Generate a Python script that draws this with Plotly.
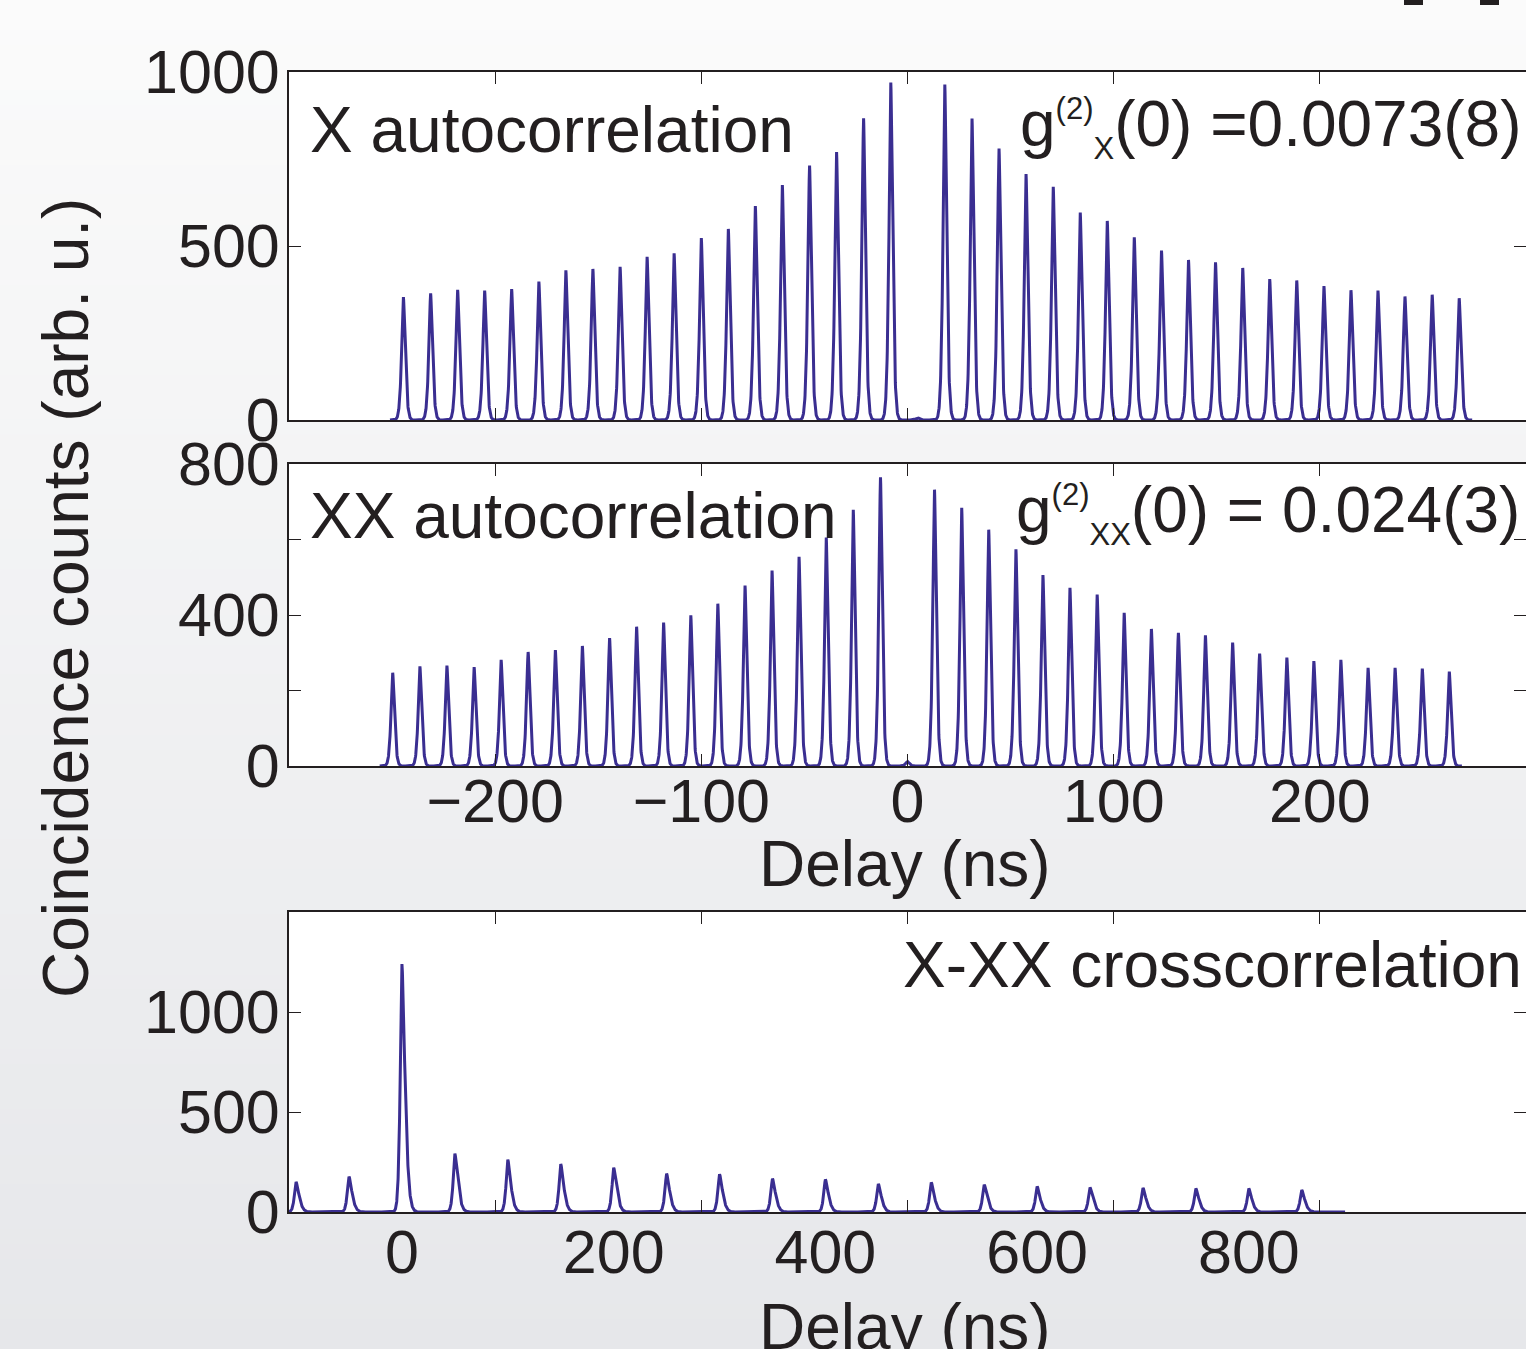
import numpy as np
import plotly.graph_objects as go

# ---------------- data ----------------
# X autocorrelation: peak delays (ns) and peak heights (counts)
x_auto_delay = [-244.5, -231.3, -218.2, -205.1, -192.0, -178.8, -165.7, -152.6, -139.4,
                -126.3, -113.2, -100.0, -86.9, -73.8, -60.7, -47.5, -34.4, -21.3, -8.1,
                5.0,
                18.1, 31.3, 44.4, 57.5, 70.7, 83.8, 96.9, 110.0, 123.2, 136.3,
                149.4, 162.6, 175.7, 188.8, 202.0, 215.1, 228.2, 241.3, 254.5, 267.6]
x_auto_counts = [353, 364, 374, 372, 376, 398, 430, 434, 440, 469, 479, 523, 549, 615,
                 675, 731, 770, 867, 970,
                 6,
                 964, 866, 780, 707, 670, 596, 572, 525, 487, 460, 453, 437, 405, 401,
                 385, 373, 372, 355, 360, 350]

# XX autocorrelation
xx_auto_delay = [-249.7, -236.5, -223.4, -210.2, -197.1, -184.0, -170.8, -157.7, -144.5,
                 -131.4, -118.3, -105.1, -92.0, -78.8, -65.7, -52.6, -39.4, -26.3, -13.1,
                 0.0,
                 13.1, 26.3, 39.4, 52.6, 65.7, 78.8, 92.0, 105.1, 118.3, 131.4,
                 144.5, 157.7, 170.8, 184.0, 197.1, 210.2, 223.4, 236.5, 249.7, 262.8]
xx_auto_counts = [247, 264, 266, 262, 281, 302, 307, 318, 339, 369, 380, 399, 430, 478,
                  518, 554, 605, 679, 765,
                  12,
                  732, 684, 626, 574, 506, 472, 454, 406, 363, 353, 346, 327, 298, 287,
                  278, 281, 260, 260, 258, 250]

# X-XX crosscorrelation
cross_delay = [-100, -50, 0, 50, 100, 150, 200, 250, 300, 350, 400, 450, 500, 550, 600,
               650, 700, 750, 800, 850]
cross_counts = [150, 177, 1240, 292, 262, 240, 222, 192, 189, 167, 163, 140, 148, 137,
                128, 122, 120, 117, 117, 110]

# axis ticks
top_tickvals = [-200, -100, 0, 100, 200]
top_ticktext = ["\u2212200", "\u2212100", "0", "100", "200"]
y1_tickvals = [0, 500, 1000]
y1_ticktext = ["0", "500", "1000"]
y2_tickvals = [0, 200, 400, 600, 800]
y2_ticktext = ["0", "", "400", "", "800"]
x3_tickvals = [0, 200, 400, 600, 800]
x3_ticktext = ["0", "200", "400", "600", "800"]
y3_tickvals = [0, 500, 1000]
y3_ticktext = ["0", "500", "1000"]


# ---------------- build histogram curves from the peaks ----------------
def curve(t, centers, heights, wl, wr, p=1.5):
    y = np.zeros_like(t)
    for c, h in zip(centers, heights):
        d = t - c
        w = np.where(d < 0, wl, wr)
        y += h * np.exp(-(np.abs(d) / w) ** p)
    return y


t1 = np.arange(-251.0, 274.0, 0.1)
y1 = curve(t1, x_auto_delay, x_auto_counts, 1.25, 1.3)
t2 = np.arange(-256.0, 269.0, 0.1)
y2 = curve(t2, xx_auto_delay, xx_auto_counts, 1.2, 1.25)
t3 = np.arange(-110.0, 891.0, 0.1)
y3 = curve(t3, cross_delay, cross_counts, 2.3, 4.0)

# ---------------- figure ----------------
W, H = 1526, 1349
LINE = "#3a2e91"
INK = "#231f20"
FONT = "Liberation Sans, Arial, sans-serif"


def py(p):
    return 1 - p / H


def px(p):
    return p / W


xdom = [px(289), 1.0]
dom1 = [py(420), py(72)]
dom2 = [py(766), py(464)]
dom3 = [py(1212), py(912)]

LW = 3.0
fig = go.Figure()
fig.add_trace(go.Scatter(x=t1, y=y1, mode="lines", line=dict(color=LINE, width=LW),
                         xaxis="x", yaxis="y", hoverinfo="skip", showlegend=False))
fig.add_trace(go.Scatter(x=t2, y=y2, mode="lines", line=dict(color=LINE, width=LW),
                         xaxis="x2", yaxis="y2", hoverinfo="skip", showlegend=False))
fig.add_trace(go.Scatter(x=t3, y=y3, mode="lines", line=dict(color=LINE, width=LW),
                         xaxis="x3", yaxis="y3", hoverinfo="skip", showlegend=False))
fig.add_trace(go.Scatter(x=[None], y=[None], mode="lines", xaxis="x4", yaxis="y3",
                         hoverinfo="skip", showlegend=False))

tickfont = dict(family=FONT, size=61, color=INK)
common = dict(showline=True, linewidth=2, linecolor=INK, mirror="ticks", ticks="inside",
              ticklen=12, tickwidth=1.3, tickcolor=INK, showgrid=False, zeroline=False,
              tickfont=tickfont, automargin=False)

fig.update_layout(
    width=W, height=H,
    margin=dict(l=0, r=0, t=0, b=0, autoexpand=False),
    paper_bgcolor="#f0f0f1",
    plot_bgcolor="white",
    showlegend=False,
    xaxis=dict(domain=xdom, anchor="y", range=[-300, 300], tickmode="array",
               tickvals=top_tickvals, showticklabels=False, **common),
    yaxis=dict(domain=dom1, anchor="x", range=[0, 1000], tickmode="array",
               tickvals=y1_tickvals, ticktext=y1_ticktext, ticklabelstandoff=-5, **common),
    xaxis2=dict(domain=xdom, anchor="y2", range=[-300, 300], tickmode="array",
                tickvals=top_tickvals, ticktext=top_ticktext, ticklabelstandoff=-19,
                **common),
    yaxis2=dict(domain=dom2, anchor="x2", range=[0, 800], tickmode="array",
                tickvals=y2_tickvals, ticktext=y2_ticktext, ticklabelstandoff=-5, **common),
    xaxis3=dict(domain=xdom, anchor="y3", range=[-106.7, 1061.8], tickmode="array",
                tickvals=x3_tickvals, ticktext=x3_ticktext, showline=True, linewidth=2,
                linecolor=INK, mirror=True, ticks="", showgrid=False, zeroline=False,
                tickfont=tickfont, ticklabelstandoff=-14, automargin=False),
    xaxis4=dict(overlaying="x3", anchor="y3", range=[-300, 300], tickmode="array",
                tickvals=top_tickvals, showticklabels=False, **common),
    yaxis3=dict(domain=dom3, anchor="x3", range=[0, 1500], tickmode="array",
                tickvals=y3_tickvals, ticktext=y3_ticktext, ticklabelstandoff=-5, **common),
)

# background gradient (paper) + white plot areas
shapes = []
N = 90
c0 = np.array([251, 251, 251])
c1 = np.array([230, 231, 234])
for i in range(N):
    f = (i + 0.5) / N
    c = (c0 + (c1 - c0) * f).round().astype(int)
    shapes.append(dict(type="rect", xref="paper", yref="paper", x0=0, x1=1,
                       y0=1 - (i + 1) / N - 0.001, y1=1 - i / N,
                       fillcolor=f"rgb({c[0]},{c[1]},{c[2]})", line=dict(width=0),
                       layer="below"))
for dom in (dom1, dom2, dom3):
    shapes.append(dict(type="rect", xref="paper", yref="paper", x0=xdom[0], x1=xdom[1],
                       y0=dom[0], y1=dom[1], fillcolor="white", line=dict(width=0),
                       layer="below"))
# clipped panel-label remnants at the top right
for a, b in ((1404, 1423), (1480, 1499)):
    shapes.append(dict(type="rect", xref="paper", yref="paper", x0=px(a), x1=px(b),
                       y0=py(5), y1=1, fillcolor=INK, line=dict(width=0), layer="above"))
fig.update_layout(shapes=shapes)

big = dict(family=FONT, size=64, color=INK)
sub_sz = 31
ann = [
    dict(text="X autocorrelation", x=px(308), y=py(130), xanchor="left", yanchor="middle"),
    dict(text=f"g<sup><span style='font-size:{sub_sz}px'>(2)</span></sup>"
              f"<sub><span style='font-size:{sub_sz}px'>X</span></sub>(0) =0.0073(8)",
         x=px(1524), y=py(127), xanchor="right", yanchor="middle"),
    dict(text="XX autocorrelation", x=px(308), y=py(516), xanchor="left", yanchor="middle"),
    dict(text=f"g<sup><span style='font-size:{sub_sz}px'>(2)</span></sup>"
              f"<sub><span style='font-size:{sub_sz}px'>XX</span></sub>(0) = 0.024(3)",
         x=px(1522), y=py(513), xanchor="right", yanchor="middle"),
    dict(text="X-XX crosscorrelation", x=px(1524), y=py(965), xanchor="right",
         yanchor="middle"),
    dict(text="Delay (ns)", x=px(905), y=py(864), xanchor="center", yanchor="middle"),
    dict(text="Delay (ns)", x=px(905), y=py(1327), xanchor="center", yanchor="middle"),
    dict(text="Coincidence counts (arb. u.)", x=px(66), y=py(598), xanchor="center",
         yanchor="middle", textangle=-90),
]
for a in ann:
    a.update(xref="paper", yref="paper", showarrow=False, font=big)
fig.update_layout(annotations=ann)

fig.write_html("out.html")
